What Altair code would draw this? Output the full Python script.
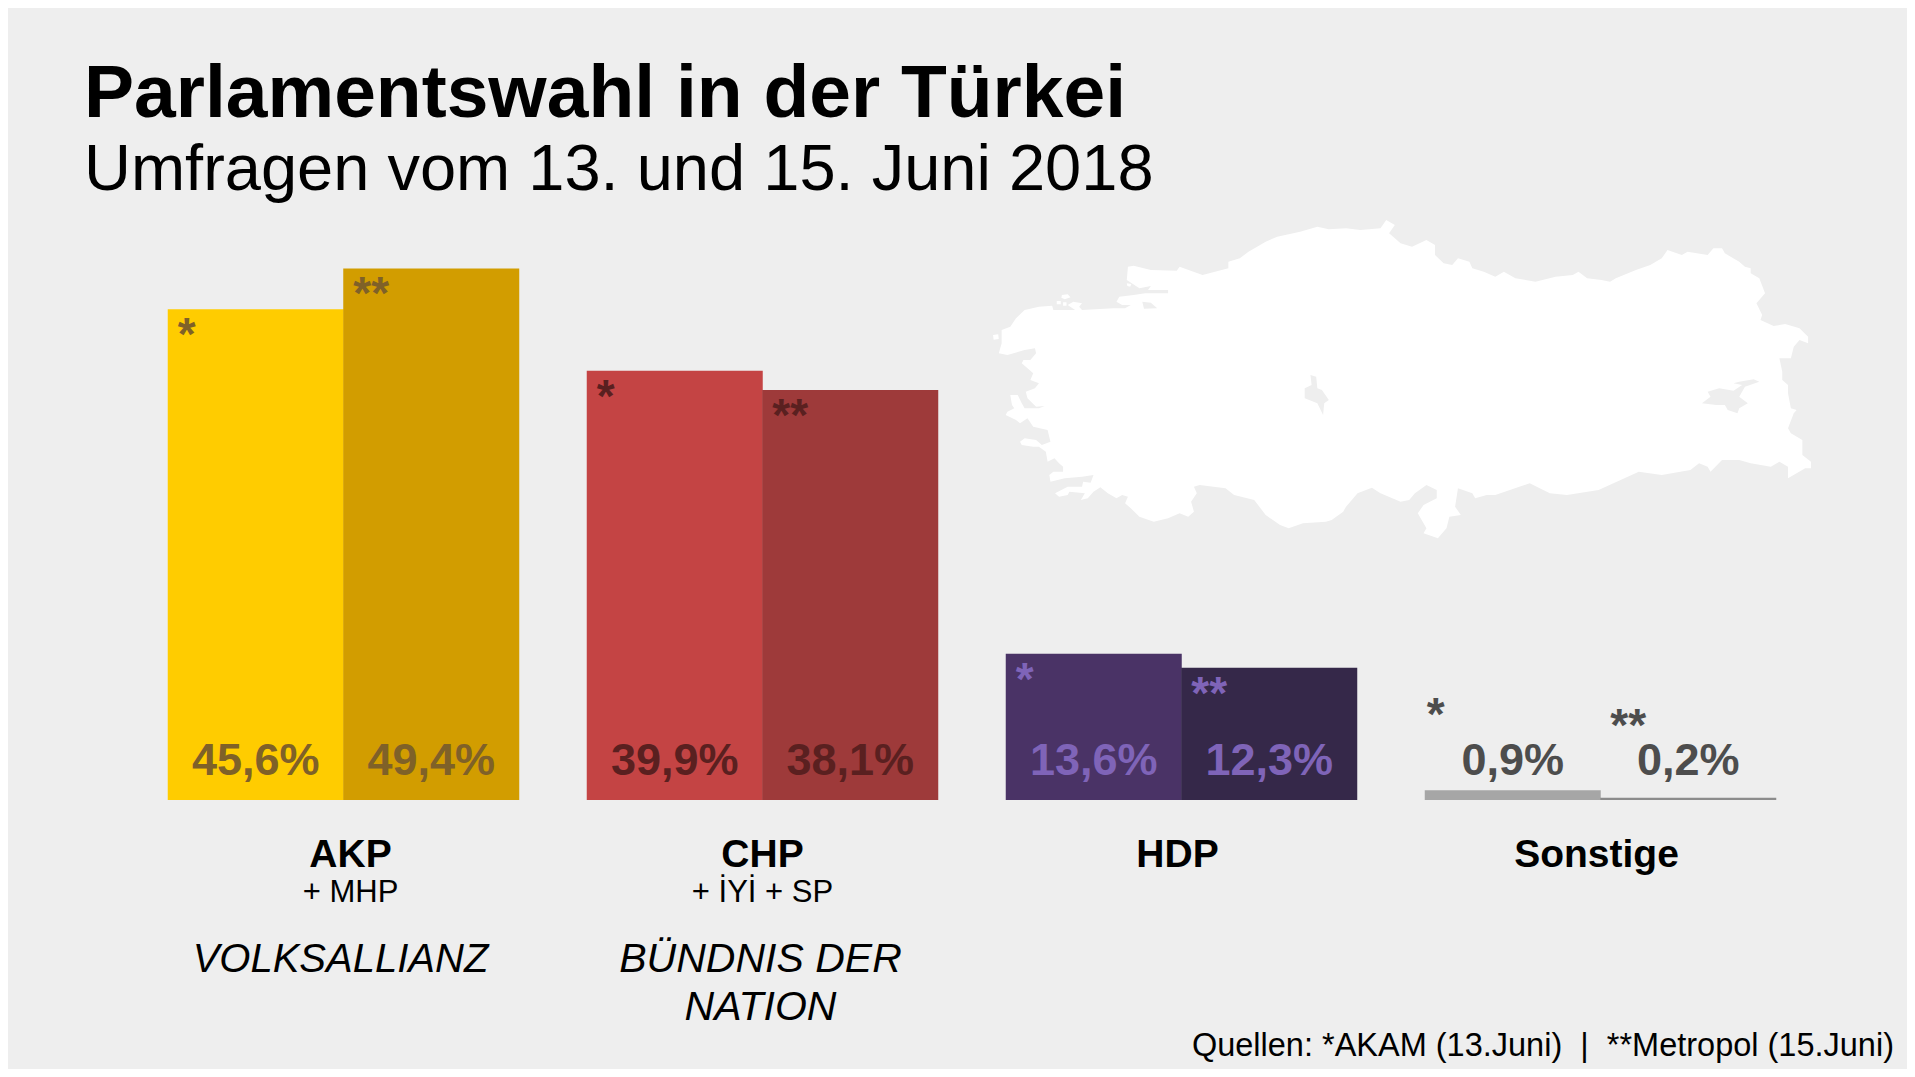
import altair as alt
import pandas as pd

parties = ["AKP", "CHP", "HDP", "Sonstige"]
polls = ["AKAM", "Metropol"]
akam = [45.6, 39.9, 13.6, 0.9]
metropol = [49.4, 38.1, 12.3, 0.2]
bar_akam = ["#FFCC00", "#C44444", "#4A3366", "#A6A6A6"]
bar_metropol = ["#D29D00", "#9E3A3A", "#352849", "#8C8C8C"]
ink = ["#7F6128", "#5A2020", "#7F64B8", "#4D4D4D"]
stars = ["*", "**"]

# outline of Turkey (crop units)
outline = [(310,200),(308,240),(330,265),(350,258),(345,270),(380,270),(380,280),(340,280),(320,285),(295,290),(290,305),(300,315),(315,315),(305,325),(285,325),(230,330),(225,320),(230,310),(215,305),(205,315),(218,330),(180,330),(178,317),(155,320),(130,330),(115,355),(105,380),(90,390),(90,430),(85,460),(100,465),(130,450),(148,445),(150,460),(140,480),(128,480),(125,490),(135,505),(145,520),(140,540),(155,550),(148,565),(132,575),(135,595),(150,620),(165,618),(155,625),(130,625),(125,610),(118,585),(105,585),(108,615),(112,625),(100,635),(97,645),(115,660),(122,670),(135,655),(145,680),(170,690),(175,725),(160,735),(150,720),(130,715),(122,725),(125,735),(145,740),(155,740),(167,755),(170,785),(182,775),(190,790),(197,800),(197,815),(180,815),(173,825),(175,845),(200,835),(230,830),(250,825),(245,848),(232,845),(230,860),(205,860),(183,880),(190,890),(205,885),(208,875),(235,880),(228,900),(240,895),(250,875),(262,862),(275,880),(290,895),(300,885),(310,890),(305,910),(315,925),(330,950),(355,965),(380,955),(400,940),(415,950),(425,935),(420,905),(430,880),(425,860),(435,855),(480,865),(495,885),(530,900),(550,945),(575,975),(590,985),(615,970),(655,965),(665,960),(685,935),(690,920),(710,880),(735,863),(750,880),(785,905),(800,900),(810,880),(830,855),(848,870),(848,895),(825,915),(815,940),(830,985),(825,1000),(850,1015),(865,985),(870,950),(890,945),(880,920),(885,865),(910,880),(915,895),(935,885),(950,885),(1010,850),(1045,880),(1075,885),(1130,870),(1200,815),(1240,825),(1290,810),(1305,790),(1320,800),(1325,815),(1345,780),(1375,780),(1395,790),(1430,800),(1445,785),(1460,800),(1460,835),(1490,805),(1500,805),(1500,785),(1485,765),(1485,720),(1465,700),(1460,685),(1470,640),(1475,630),(1465,625),(1460,580),(1460,555),(1450,540),(1450,515),(1445,475),(1465,475),(1470,440),(1480,420),(1495,430),(1495,410),(1480,385),(1455,372),(1435,378),(1412,360),(1415,345),(1408,320),(1405,310),(1420,280),(1410,235),(1395,220),(1395,205),(1385,200),(1375,185),(1350,160),(1345,145),(1330,145),(1320,165),(1285,155),(1275,165),(1250,150),(1240,175),(1220,195),(1195,210),(1160,235),(1150,245),(1135,240),(1110,235),(1095,215),(1085,225),(1055,230),(1020,245),(985,235),(965,215),(950,230),(930,215),(910,205),(905,185),(885,175),(875,195),(860,190),(845,165),(845,135),(830,120),(805,140),(785,130),(765,100),(775,75),(760,60),(750,85),(715,90),(690,85),(660,88),(640,80),(610,95),(570,110),(550,125),(520,155),(505,175),(485,185),(485,205),(440,225),(400,200),(395,212),(350,210),(320,197)]
islands = [
    [(195,285),(205,283),(210,292),(200,298),(194,293)],
    [(75,405),(84,403),(85,417),(76,419)],
    [(186,303),(193,303),(193,313),(186,313)],
    [(197,307),(203,307),(203,317),(197,317)],
]
lakes = [
    [(628,525),(638,530),(640,565),(648,570),(660,600),(652,610),(650,645),(640,610),(618,595),(618,565),(630,555)],
    [(1400,538),(1410,545),(1385,560),(1375,590),(1390,610),(1375,625),(1372,640),(1355,630),(1350,615),(1335,615),(1310,610),(1325,590),(1320,575),(1340,565),(1365,572),(1380,555),(1365,550),(1375,545)],
    [(335,305),(350,308),(361,325),(338,326)],
    [(308,250),(316,252),(314,260),(309,258)],
]

BG = "#EEEEEE"
W, H = 1899, 1061
OFF = 8
FONT = "Liberation Sans"


def ring(points, clockwise):
    # crop units to page pixels
    pts = [(x * 900 / 1568 + 950, y / 3 + 200) for x, y in points]
    area = sum(a[0] * b[1] - b[0] * a[1] for a, b in zip(pts, pts[1:] + pts[:1]))
    if (area > 0) != clockwise:
        pts = pts[::-1]
    return [list(p) for p in pts + pts[:1]]


polygons = [[ring(outline, True)] + [ring(l, False) for l in lakes]]
polygons += [[ring(i, True)] for i in islands]
feature = {"type": "Feature", "properties": {}, "geometry": {"type": "MultiPolygon", "coordinates": polygons}}

df = pd.DataFrame({
    "party": parties * 2,
    "poll": [polls[0]] * 4 + [polls[1]] * 4,
    "value": akam + metropol,
    "fill": bar_akam + bar_metropol,
    "ink": ink * 2,
    "star": [stars[0]] * 4 + [stars[1]] * 4,
})
df["label"] = df["value"].map(lambda v: f"{v:.1f}%".replace(".", ","))

x = alt.X("party:N", axis=None, scale=alt.Scale(domain=parties, range=[168 - OFF, 1776 - OFF], paddingInner=0.1623, paddingOuter=0))
xo = alt.XOffset("poll:N", scale=alt.Scale(domain=polls, paddingInner=0, paddingOuter=0))
y = alt.Y("value:Q", axis=None, scale=alt.Scale(domain=[0, 73.6], range=[792, 0]))

map_layer = alt.Chart(alt.Data(values=[feature])).mark_geoshape(fill="#FFFFFF", stroke=None).project(
    type="identity", scale=1, translate=[-OFF, -OFF], reflectY=False)

bars = alt.Chart(df).mark_bar(size=176).encode(x=x, xOffset=xo, y=y, fill=alt.Fill("fill:N", scale=None))

pct = alt.Chart(df).mark_text(font=FONT, fontWeight="bold", fontSize=45, baseline="alphabetic").encode(
    x=x, xOffset=xo, y=alt.value(775 - OFF), text="label:N", color=alt.Color("ink:N", scale=None))

star_main = alt.Chart(df[df.party != "Sonstige"]).mark_text(font=FONT, fontWeight="bold", fontSize=46, align="left", baseline="top", dx=-78, dy=5).encode(
    x=x, xOffset=xo, y=y, text="star:N", color=alt.Color("ink:N", scale=None))
star_other_a = alt.Chart(df[(df.party == "Sonstige") & (df.poll == polls[0])]).mark_text(font=FONT, fontWeight="bold", fontSize=46, align="left", baseline="top", dx=-86, dy=-96).encode(
    x=x, xOffset=xo, y=y, text="star:N", color=alt.Color("ink:N", scale=None))
star_other_b = alt.Chart(df[(df.party == "Sonstige") & (df.poll == polls[1])]).mark_text(font=FONT, fontWeight="bold", fontSize=46, align="left", baseline="top", dx=-78, dy=-93).encode(
    x=x, xOffset=xo, y=y, text="star:N", color=alt.Color("ink:N", scale=None))


def party_text(party, text, ypx, size, weight="normal", style="normal", dx=0):
    d = pd.DataFrame({"party": [party], "t": [text]})
    return alt.Chart(d).mark_text(font=FONT, fontSize=size, fontWeight=weight, fontStyle=style, dx=dx, baseline="alphabetic", color="#000000").encode(
        x=x, y=alt.value(ypx - OFF), text="t:N")


def free_text(text, xpx, ypx, size, weight="normal", align="left"):
    d = pd.DataFrame({"t": [text]})
    return alt.Chart(d).mark_text(font=FONT, fontSize=size, fontWeight=weight, align=align, baseline="alphabetic", color="#000000").encode(
        x=alt.value(xpx - OFF), y=alt.value(ypx - OFF), text="t:N")


labels = [
    party_text("AKP", "AKP", 867, 39, "bold", dx=7),
    party_text("AKP", "+ MHP", 902, 31, dx=7),
    party_text("AKP", "VOLKSALLIANZ", 972, 40, style="italic", dx=-3),
    party_text("CHP", "CHP", 867, 39, "bold"),
    party_text("CHP", "+ İYİ + SP", 902, 31),
    party_text("CHP", "BÜNDNIS DER", 972, 41, style="italic", dx=-2),
    party_text("CHP", "NATION", 1020, 41, style="italic", dx=-2),
    party_text("HDP", "HDP", 867, 39, "bold", dx=-4),
    party_text("Sonstige", "Sonstige", 867, 39, "bold", dx=-4),
]
free = [
    free_text("Parlamentswahl in der Türkei", 84, 117, 75, "bold"),
    free_text("Umfragen vom 13. und 15. Juni 2018", 84, 190, 65),
    free_text("Quellen: *AKAM (13.Juni)\u00a0\u00a0|\u00a0\u00a0**Metropol (15.Juni)", 1894, 1056, 32.5, align="right"),
]

chart = alt.layer(map_layer, bars, pct, star_main, star_other_a, star_other_b, *labels, *free).properties(
    width=W, height=H, background=BG, padding=0, autosize=alt.AutoSizeParams(type="none")
).configure_view(stroke=None)

chart.save("out.html", embed_options={"renderer": "svg", "actions": False})
